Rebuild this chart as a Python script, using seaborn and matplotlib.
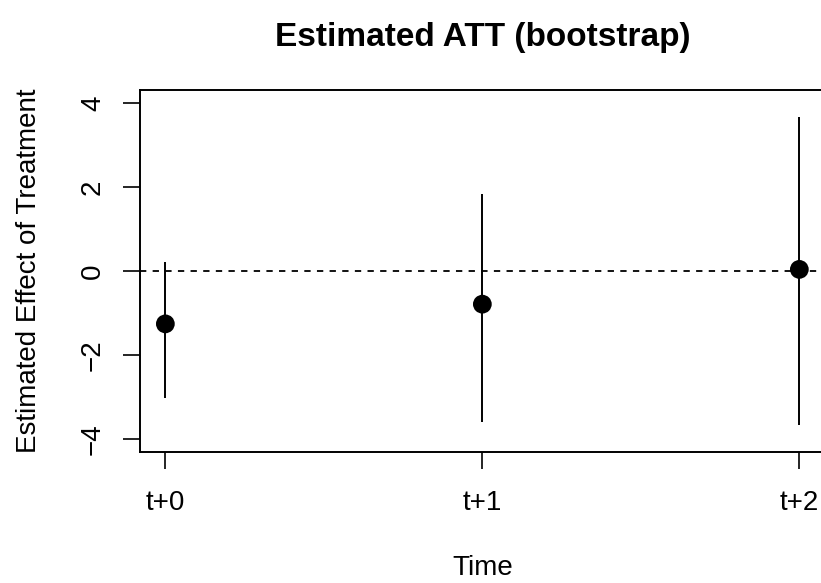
import matplotlib
matplotlib.use("Agg")
import matplotlib.pyplot as plt
import seaborn as sns
import pandas as pd

# data
periods = ["t+0", "t+1", "t+2"]
positions = [1, 2, 3]
att = [-1.26, -0.79, 0.04]
ci_low = [-3.04, -3.60, -3.68]
ci_high = [0.22, 1.85, 3.68]
y_ticks = [-4, -2, 0, 2, 4]

sns.set_style("ticks")
plt.rcParams['font.family'] = ['Liberation Sans', 'DejaVu Sans']
plt.rcParams['text.color'] = 'black'
plt.rcParams['axes.labelcolor'] = 'black'

df = pd.DataFrame({"pos": positions, "att": att, "lo": ci_low, "hi": ci_high})

fig = plt.figure(figsize=(8.21, 5.83), dpi=100)
ax = fig.add_axes([140/821, 1 - 451.7/583, (824.7 - 140)/821, (451.7 - 90)/583])

ax.axhline(0, color="black", lw=1.3, dashes=(3.5, 3.5), zorder=1)
ax.vlines(df["pos"], df["lo"], df["hi"], color="black", lw=1.4, zorder=2)
sns.scatterplot(data=df, x="pos", y="att", ax=ax, color="black", s=13.5**2,
                edgecolor="none", zorder=3, legend=False)

ax.set_xlim(0.92, 3.08)
ax.set_ylim(-4.31, 4.32)
ax.set_xticks(positions)
ax.set_xticklabels(periods)
ax.set_yticks(y_ticks)
ax.set_yticklabels([str(v).replace("-", "\u2212") for v in y_ticks], rotation=90, va="center")

for s in ax.spines.values():
    s.set_color("black")
    s.set_linewidth(1.4)
ax.tick_params(axis="both", length=12.5, width=1.2, color="black", labelsize=20, labelcolor="black")
ax.tick_params(axis="x", pad=15)
ax.tick_params(axis="y", pad=12)

ax.set_xlabel("Time", fontsize=20, labelpad=28.5)
ax.set_ylabel("Estimated Effect of Treatment", fontsize=20, labelpad=27)
ax.set_title("Estimated ATT (bootstrap)", fontsize=24, fontweight="bold", pad=32)

fig.savefig("out.png", dpi=100)
